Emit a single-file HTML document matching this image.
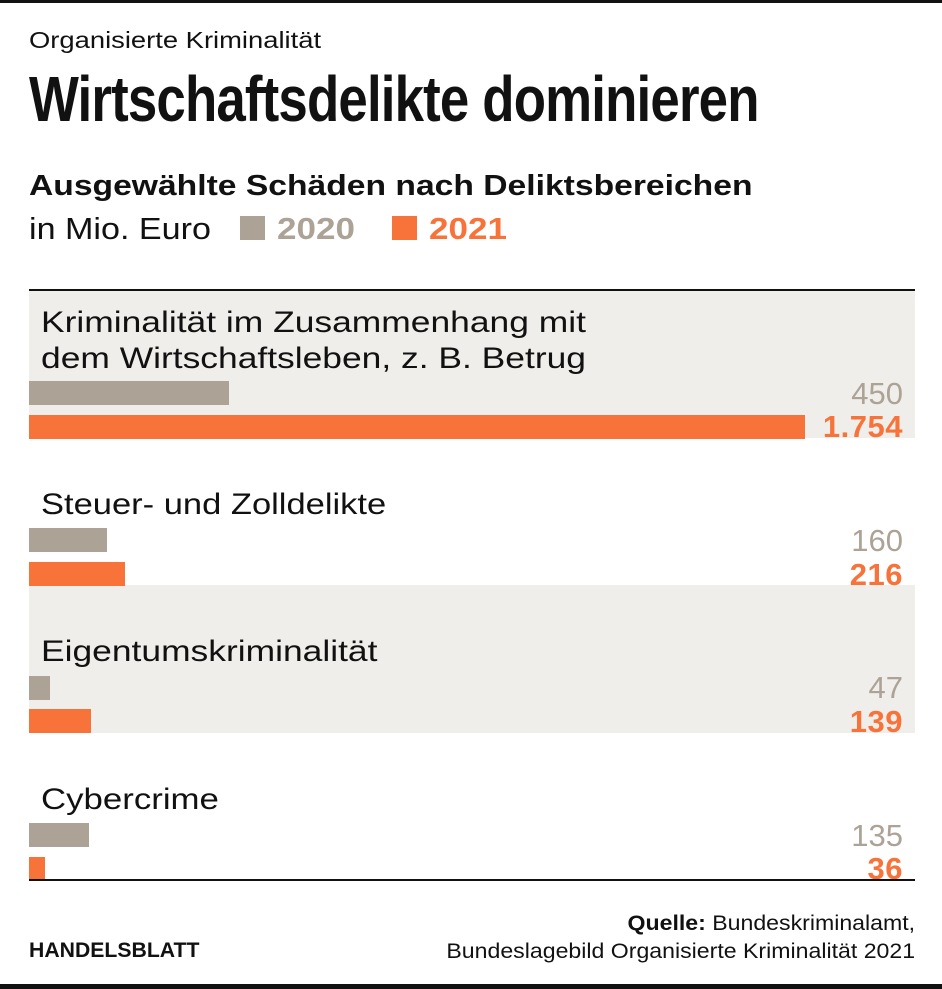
<!DOCTYPE html>
<html><head><meta charset="utf-8"><style>
body{margin:0;width:942px;height:989px;background:#fff;position:relative;overflow:hidden;font-family:"Liberation Sans",sans-serif;color:#111}
.a{position:absolute;white-space:nowrap}
.s{transform-origin:0 0}
.r{transform-origin:100% 0;text-align:right}
.bg{position:absolute;left:29px;width:886px;background:#f0eeea}
.b{position:absolute;left:29px}
.g{background:#ada296}.o{background:#f7733a}
.vg{color:#ada296;font-size:31px;right:39px}
.vo{color:#f7733a;font-size:31px;font-weight:bold;right:39px;letter-spacing:0.5px}
.lab{left:41px;font-size:30px;color:#111}
</style></head><body>
<div class="a" style="left:0;top:0;width:942px;height:3px;background:#111"></div>
<div class="a s" style="left:29px;top:27px;font-size:23px;transform:scaleX(1.19)">Organisierte Kriminalität</div>
<div class="a s" style="left:29px;top:62px;font-size:64px;font-weight:bold;transform:scaleX(0.825);letter-spacing:-1px">Wirtschaftsdelikte dominieren</div>
<div class="a s" style="left:29px;top:170px;font-size:29px;font-weight:bold;transform:scaleX(1.16)">Ausgewählte Schäden nach Deliktsbereichen</div>
<div class="a s" style="left:29px;top:211px;font-size:31px;transform:scaleX(1.1)">in Mio. Euro</div>
<div class="a g" style="left:240px;top:216px;width:25px;height:24px"></div>
<div class="a s" style="left:277px;top:211px;font-size:31px;font-weight:bold;color:#ada296;transform:scaleX(1.13)">2020</div>
<div class="a o" style="left:392px;top:216px;width:25px;height:24px"></div>
<div class="a s" style="left:429px;top:211px;font-size:31px;font-weight:bold;color:#f7733a;transform:scaleX(1.13)">2021</div>

<div class="a" style="left:29px;top:289px;width:886px;height:2px;background:#111"></div>
<div class="bg" style="top:291px;height:147px"></div>
<div class="bg" style="top:585px;height:148px"></div>

<div class="a lab s" style="top:305px;line-height:36px;transform:scaleX(1.18)">Kriminalität im Zusammenhang mit<br>dem Wirtschaftsleben, z. B. Betrug</div>
<div class="b g" style="top:381px;width:200px;height:24px"></div>
<div class="b o" style="top:415px;width:776px;height:24px"></div>
<div class="a vg" style="top:376px">450</div>
<div class="a vo" style="top:409px">1.754</div>

<div class="a lab s" style="top:488px;transform:scaleX(1.15)">Steuer- und Zolldelikte</div>
<div class="b g" style="top:528px;width:78px;height:24px"></div>
<div class="b o" style="top:562px;width:96px;height:24px"></div>
<div class="a vg" style="top:523px">160</div>
<div class="a vo" style="top:557px">216</div>

<div class="a lab s" style="top:635px;transform:scaleX(1.18)">Eigentumskriminalität</div>
<div class="b g" style="top:676px;width:21px;height:24px"></div>
<div class="b o" style="top:709px;width:62px;height:24px"></div>
<div class="a vg" style="top:670px">47</div>
<div class="a vo" style="top:704px">139</div>

<div class="a lab s" style="top:783px;transform:scaleX(1.16)">Cybercrime</div>
<div class="b g" style="top:823px;width:60px;height:24px"></div>
<div class="b o" style="top:857px;width:16px;height:23px"></div>
<div class="a vg" style="top:818px">135</div>
<div class="a vo" style="top:851px">36</div>
<div class="a" style="left:29px;top:879px;width:886px;height:2px;background:#111"></div>

<div class="a r" style="right:27px;top:910px;font-size:21px;line-height:28px;transform:scaleX(1.1)"><b>Quelle:</b> Bundeskriminalamt,<br>Bundeslagebild Organisierte Kriminalität 2021</div>
<div class="a s" style="left:29px;top:939px;font-size:21px;font-weight:bold;transform:scaleX(1.01)">HANDELSBLATT</div>
<div class="a" style="left:0;top:984px;width:942px;height:5px;background:#111"></div>
</body></html>
